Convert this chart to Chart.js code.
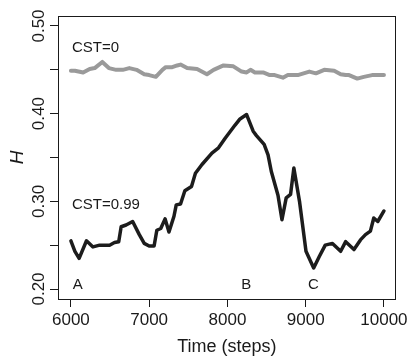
<!DOCTYPE html>
<html>
<head>
<meta charset="utf-8">
<script src="https://cdn.jsdelivr.net/npm/chart.js@4/dist/chart.umd.min.js"></script>
<style>
  html, body { margin: 0; padding: 0; background: #fff; }
  canvas { display: block; }
</style>
</head>
<body>
<canvas id="c" width="411" height="356"></canvas>
<script>
// ---- Data ----
const xTicks = [6000, 7000, 8000, 9000, 10000];
const yTicks = [0.20, 0.25, 0.30, 0.35, 0.40, 0.45, 0.50];

// CST = 0 (grey line)
const cst0Steps = [6000, 6051, 6156, 6240, 6304, 6401, 6485, 6579, 6662, 6747, 6839, 6937, 7000, 7085, 7169, 7212, 7295, 7358, 7401, 7485, 7612, 7738, 7823, 7950, 8076, 8181, 8245, 8295, 8351, 8456, 8541, 8604, 8709, 8772, 8899, 9047, 9131, 9237, 9364, 9447, 9511, 9554, 9659, 9743, 9848, 10000];
const cst0H = [0.449, 0.449, 0.447, 0.451, 0.452, 0.459, 0.452, 0.450, 0.450, 0.452, 0.450, 0.445, 0.444, 0.442, 0.450, 0.453, 0.453, 0.455, 0.456, 0.452, 0.451, 0.445, 0.450, 0.455, 0.454, 0.448, 0.447, 0.450, 0.447, 0.447, 0.444, 0.444, 0.441, 0.444, 0.444, 0.448, 0.446, 0.450, 0.449, 0.445, 0.444, 0.444, 0.440, 0.442, 0.444, 0.444];

// CST = 0.99 (black line)
const cst99Steps = [6000, 6051, 6105, 6199, 6282, 6367, 6494, 6557, 6611, 6642, 6705, 6789, 6874, 6937, 7000, 7063, 7098, 7148, 7203, 7253, 7317, 7346, 7401, 7456, 7541, 7591, 7675, 7802, 7886, 7971, 8098, 8161, 8245, 8329, 8371, 8469, 8519, 8561, 8646, 8697, 8751, 8807, 8849, 8921, 9004, 9102, 9174, 9250, 9342, 9447, 9511, 9617, 9700, 9764, 9827, 9870, 9921, 10000];
const cst99H = [0.255, 0.243, 0.235, 0.255, 0.248, 0.250, 0.250, 0.253, 0.254, 0.271, 0.273, 0.277, 0.262, 0.252, 0.249, 0.249, 0.267, 0.269, 0.280, 0.265, 0.283, 0.296, 0.297, 0.312, 0.317, 0.332, 0.342, 0.355, 0.361, 0.372, 0.387, 0.394, 0.399, 0.380, 0.375, 0.365, 0.353, 0.334, 0.307, 0.279, 0.304, 0.308, 0.338, 0.300, 0.243, 0.224, 0.237, 0.250, 0.252, 0.243, 0.254, 0.245, 0.256, 0.262, 0.266, 0.281, 0.277, 0.289];

// Text annotations (in data coordinates)
const noteTexts = ['CST=0', 'CST=0.99', 'A', 'B', 'C'];
const noteX = [6013, 6013, 6089, 8240, 9100];
const noteY = [0.475, 0.296, 0.2045, 0.2045, 0.2045];
const noteAlign = ['left', 'left', 'center', 'center', 'center'];

const FONT = "'Liberation Sans', Arial, Helvetica, sans-serif";
const INK = '#1a1a1a';

function pts(xs, ys) { return xs.map((x, i) => ({ x: x, y: ys[i] })); }

const boxPlugin = {
  id: 'box',
  afterDatasetsDraw(chart) {
    const { ctx, chartArea: a } = chart;
    ctx.save();
    ctx.strokeStyle = INK;
    ctx.lineWidth = 1;
    ctx.strokeRect(Math.round(a.left) + 0.5, Math.round(a.top) + 0.5,
                   Math.round(a.right - a.left) - 1, Math.round(a.bottom - a.top));
    ctx.restore();
  }
};

const notesPlugin = {
  id: 'notes',
  afterDatasetsDraw(chart) {
    const { ctx, scales } = chart;
    ctx.save();
    ctx.fillStyle = INK;
    ctx.font = '15px ' + FONT;
    ctx.textBaseline = 'middle';
    noteTexts.forEach((t, i) => {
      ctx.textAlign = noteAlign[i];
      ctx.fillText(t, scales.x.getPixelForValue(noteX[i]), scales.y.getPixelForValue(noteY[i]));
    });
    ctx.restore();
  }
};

new Chart(document.getElementById('c'), {
  type: 'line',
  data: {
    datasets: [
      {
        label: 'CST=0',
        data: pts(cst0Steps, cst0H),
        borderColor: '#9a9a9a',
        borderWidth: 4,
        pointRadius: 0,
        tension: 0,
        borderJoinStyle: 'round',
        borderCapStyle: 'round'
      },
      {
        label: 'CST=0.99',
        data: pts(cst99Steps, cst99H),
        borderColor: '#1c1c1c',
        borderWidth: 3.5,
        pointRadius: 0,
        tension: 0,
        borderJoinStyle: 'round',
        borderCapStyle: 'round'
      }
    ]
  },
  options: {
    responsive: false,
    animation: false,
    devicePixelRatio: 1,
    layout: { padding: { top: 16, right: 12, left: 0, bottom: 0 } },
    plugins: { legend: { display: false }, tooltip: { enabled: false } },
    scales: {
      x: {
        type: 'linear',
        min: 5835,
        max: 10152,
        afterBuildTicks(s) { s.ticks = xTicks.map(v => ({ value: v })); },
        afterFit(s) { s.height = 57; },
        grid: { drawOnChartArea: false, drawTicks: true, tickLength: 8, tickColor: INK, color: INK },
        border: { display: true, color: INK, width: 1 },
        ticks: {
          autoSkip: false, maxRotation: 0, minRotation: 0, padding: 3,
          color: INK, font: { family: FONT, size: 17 },
          callback: v => String(v)
        },
        title: {
          display: true, text: 'Time (steps)', color: INK,
          font: { family: FONT, size: 18, lineHeight: 1.0 },
          padding: { top: 0, bottom: 0 }
        }
      },
      y: {
        type: 'linear',
        min: 0.1886,
        max: 0.5114,
        afterBuildTicks(s) { s.ticks = yTicks.map(v => ({ value: v })); },
        afterFit(s) { s.width = 58; },
        grid: { drawOnChartArea: false, drawTicks: true, tickLength: 8, tickColor: INK, color: INK },
        border: { display: true, color: INK, width: 1 },
        ticks: {
          autoSkip: false, minRotation: 90, maxRotation: 90, crossAlign: 'center', padding: -6,
          color: INK, font: { family: FONT, size: 17 },
          callback: v => (Math.round(v * 100) % 10 === 0 ? v.toFixed(2) : '')
        },
        title: {
          display: true, text: 'H', color: INK,
          font: { family: FONT, size: 19, style: 'italic', lineHeight: 1.2 },
          padding: { top: 6, bottom: 0 }
        }
      }
    }
  },
  plugins: [boxPlugin, notesPlugin]
});
</script>
</body>
</html>
